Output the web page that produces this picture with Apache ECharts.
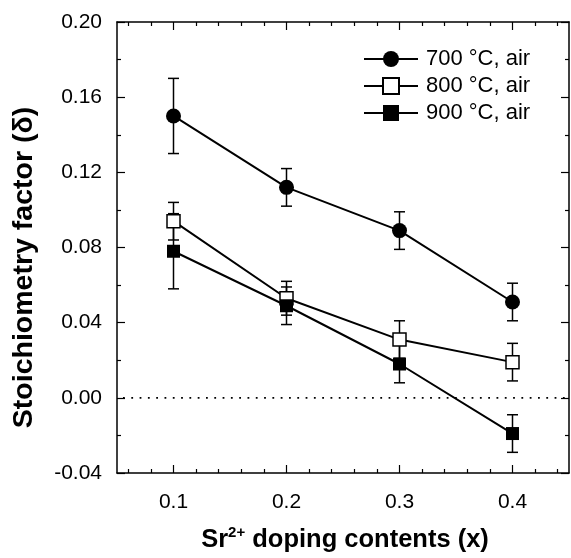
<!DOCTYPE html>
<html>
<head>
<meta charset="utf-8">
<script src="https://cdn.jsdelivr.net/npm/echarts@6/dist/echarts.min.js"></script>
<style>html,body{margin:0;padding:0;background:#fff}#c{width:571px;height:558px}</style>
</head>
<body>
<div id="c"></div>
<script>
// ---- data ----
const xValues = [0.1, 0.2, 0.3, 0.4];
const seriesNames = ['700 °C, air', '800 °C, air', '900 °C, air'];
const s700 = [0.150, 0.112, 0.089, 0.051];
const e700 = [0.020, 0.010, 0.010, 0.010];
const s800 = [0.094, 0.053, 0.031, 0.019];
const e800 = [0.010, 0.009, 0.010, 0.010];
const s900 = [0.078, 0.049, 0.018, -0.019];
const e900 = [0.020, 0.010, 0.010, 0.010];
const zeroLine = [0];
const xMajorTicks = [0.1, 0.2, 0.3, 0.4];
const xMinorTicks = [0.06, 0.08, 0.12, 0.14, 0.16, 0.18, 0.22, 0.24, 0.26, 0.28, 0.32, 0.34, 0.36, 0.38, 0.42, 0.44];

const FONT = 'Liberation Sans, Arial, sans-serif';
const chart = echarts.init(document.getElementById('c'), null, {renderer: 'canvas'});

function pairs(ys) { return xValues.map((x, i) => [x, ys[i]]); }
function errData(ys, es) { return xValues.map((x, i) => [x, ys[i] - es[i], ys[i] + es[i]]); }

function errSeries(ys, es) {
  return {
    type: 'custom',
    xAxisIndex: 0, yAxisIndex: 0,
    silent: true, z: 1,
    data: errData(ys, es),
    renderItem: function (params, api) {
      const x = api.value(0);
      const lo = api.coord([x, api.value(1)]);
      const hi = api.coord([x, api.value(2)]);
      const hw = 5.5;
      const st = {stroke: '#000', lineWidth: 1.5};
      return {
        type: 'group',
        children: [
          {type: 'line', shape: {x1: lo[0], y1: lo[1], x2: hi[0], y2: hi[1]}, style: st},
          {type: 'line', shape: {x1: lo[0] - hw, y1: lo[1], x2: lo[0] + hw, y2: lo[1]}, style: st},
          {type: 'line', shape: {x1: hi[0] - hw, y1: hi[1], x2: hi[0] + hw, y2: hi[1]}, style: st}
        ]
      };
    }
  };
}

function axLine(show) { return {show: show, onZero: false, lineStyle: {color: '#000', width: 1.5}}; }
function xAx(pos, minor) {
  return {
    type: 'value', position: pos, min: 0.05, max: 0.45,
    axisLine: axLine(!minor),
    axisTick: {show: true, inside: true, length: minor ? 4 : 8, lineStyle: {color: '#000', width: 1.2},
               customValues: minor ? xMinorTicks : xMajorTicks},
    axisLabel: (pos === 'bottom' && !minor) ? {show: true, customValues: xMajorTicks, margin: 19,
               fontFamily: FONT, fontSize: 21, color: '#000', formatter: v => v.toFixed(1)} : {show: false},
    splitLine: {show: false}
  };
}
function yAx(pos) {
  return {
    type: 'value', position: pos, min: -0.04, max: 0.20, interval: 0.04,
    axisLine: axLine(true),
    axisTick: {show: true, inside: true, length: 8, lineStyle: {color: '#000', width: 1.2}},
    minorTick: {show: true, splitNumber: 2, length: 4, lineStyle: {color: '#000', width: 1.2}},
    axisLabel: pos === 'left' ? {show: true, margin: 15, fontFamily: FONT, fontSize: 21, color: '#000',
               formatter: v => v.toFixed(2)} : {show: false},
    splitLine: {show: false}
  };
}

const xAxes = [xAx('bottom', false), xAx('bottom', true), xAx('top', false), xAx('top', true)];
xAxes[0].name = '{m|Sr}{s|2+}{m| doping contents (x)}';
xAxes[0].nameLocation = 'middle';
xAxes[0].nameGap = 52;
xAxes[0].nameTextStyle = {
  padding: [0, 0, 0, 4],
  rich: {
    m: {fontFamily: FONT, fontWeight: 'bold', fontSize: 25.5, color: '#000', lineHeight: 28, verticalAlign: 'bottom'},
    s: {fontFamily: FONT, fontWeight: 'bold', fontSize: 15, color: '#000', lineHeight: 28, verticalAlign: 'top', padding: [0, 0, 12, 0]}
  }
};
const yAxes = [yAx('left'), yAx('right')];
yAxes[0].name = 'Stoichiometry factor (δ)';
yAxes[0].nameLocation = 'middle';
yAxes[0].nameGap = 78;
yAxes[0].nameTextStyle = {fontFamily: FONT, fontWeight: 'bold', fontSize: 28.5, color: '#000', padding: [0, 40, 0, 0]};

const lineStyle = {color: '#000', width: 2};

const option = {
  animation: false,
  backgroundColor: '#fff',
  grid: {left: 117, right: 2, top: 22, bottom: 84, containLabel: false},
  legend: {
    orient: 'vertical', left: 358, top: 43,
    itemWidth: 54, itemHeight: 20, itemGap: 5,
    data: seriesNames,
    textStyle: {fontFamily: FONT, fontSize: 22, color: '#000', lineHeight: 20, padding: [0, 0, 0, 3]}
  },
  xAxis: xAxes,
  yAxis: yAxes,
  series: [
    {
      type: 'custom', xAxisIndex: 0, yAxisIndex: 0, silent: true, z: 0,
      data: zeroLine,
      renderItem: function (params, api) {
        const y = api.value(0);
        const a = api.coord([0.05, y]);
        const b = api.coord([0.45, y]);
        return {type: 'line', shape: {x1: a[0] + 6, y1: a[1], x2: b[0], y2: b[1]},
                style: {stroke: '#000', lineWidth: 1.8, lineDash: [1.8, 6.5]}};
      }
    },
    errSeries(s700, e700), errSeries(s800, e800), errSeries(s900, e900),
    {
      name: seriesNames[0], type: 'line', data: pairs(s700), z: 3,
      symbol: 'circle', symbolSize: 15,
      lineStyle: lineStyle, itemStyle: {color: '#000'}
    },
    {
      name: seriesNames[1], type: 'line', data: pairs(s800), z: 3,
      symbol: 'rect', symbolSize: 13,
      lineStyle: lineStyle, itemStyle: {color: '#fff', borderColor: '#000', borderWidth: 1.5}
    },
    {
      name: seriesNames[2], type: 'line', data: pairs(s900), z: 3,
      symbol: 'rect', symbolSize: 13,
      lineStyle: lineStyle, itemStyle: {color: '#000'}
    }
  ]
};
chart.setOption(option);
</script>
</body>
</html>
